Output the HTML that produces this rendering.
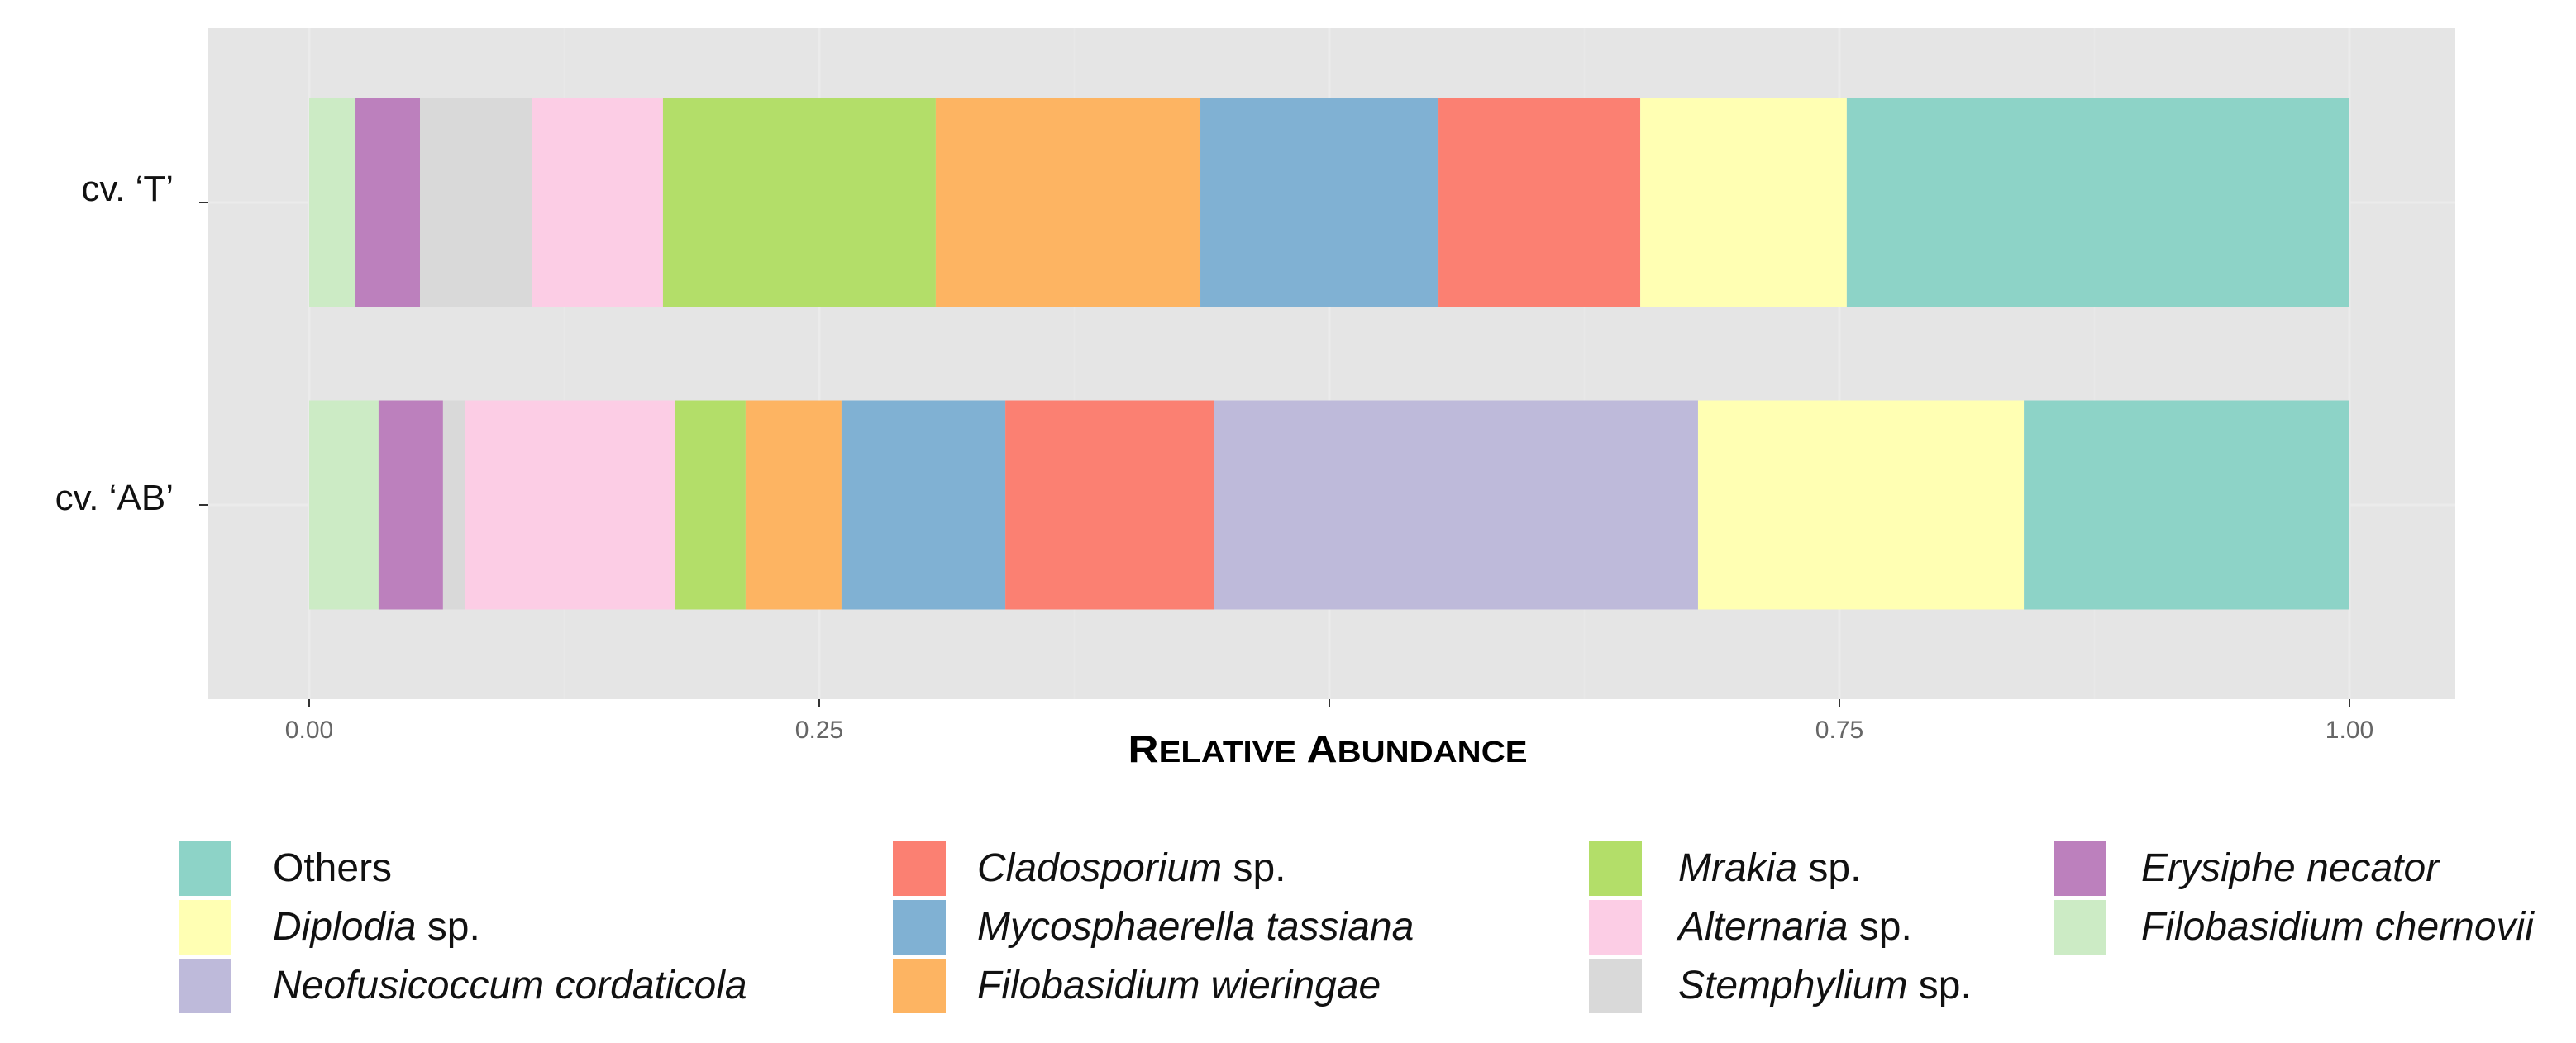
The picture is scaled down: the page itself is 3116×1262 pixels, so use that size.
<!DOCTYPE html>
<html><head><meta charset="utf-8"><style>
html,body{margin:0;padding:0;background:#fff}
svg{display:block}
text{font-family:"Liberation Sans",sans-serif}
</style></head><body>
<svg id="chart" width="3116" height="1262" xmlns="http://www.w3.org/2000/svg">
<rect x="251" y="34" width="2719" height="812" fill="#e5e5e5"/>
<g id="grid"></g>
<g id="bars"></g>
<g id="axes"></g>
<g id="legend"></g>
</svg>
<script>
const categories = ["cv. \u2018T\u2019", "cv. \u2018AB\u2019"];
const taxa = ["Filobasidium chernovii","Erysiphe necator","Stemphylium sp.","Alternaria sp.","Mrakia sp.","Filobasidium wieringae","Mycosphaerella tassiana","Cladosporium sp.","Neofusicoccum cordaticola","Diplodia sp.","Others"];
const colors = ["#ccebc5","#bc80bd","#d9d9d9","#fccde5","#b3de69","#fdb462","#80b1d3","#fb8072","#bebada","#ffffb3","#8dd3c7"];
const valuesT = [0.0227,0.0316,0.0551,0.0640,0.1337,0.1297,0.1167,0.0989,0,0.1012,0.2464];
const valuesAB = [0.0340,0.0316,0.0106,0.1029,0.0348,0.0470,0.0803,0.1021,0.2374,0.1597,0.1596];
const tickValues = [0,0.25,0.5,0.75,1];
const tickLabels = ["0.00","0.25","","0.75","1.00"];
const NS="http://www.w3.org/2000/svg";
const X0=374, X1=2842;
const xs = v => X0 + v*(X1-X0);
const yCenters=[245,611], barH=253;
const y = i => yCenters[i];
function mk(tag, attrs, parent){const e=document.createElementNS(NS,tag);for(const k in attrs)e.setAttribute(k,attrs[k]);parent.appendChild(e);return e;}
const grid=document.getElementById('grid'), bars=document.getElementById('bars'), axes=document.getElementById('axes'), legend=document.getElementById('legend');
for(let i=0;i<tickValues.length;i++){
  const l=mk('line',{x1:xs(tickValues[i]),x2:xs(tickValues[i]),y1:34,y2:846,stroke:'#ebebeb','stroke-width':3},grid);
  
  
  if(i<tickValues.length-1){
    const m=(tickValues[i]+tickValues[i+1])/2;
    const l2=mk('line',{x1:xs(m),x2:xs(m),y1:34,y2:846,stroke:'#e8e8e8','stroke-width':2},grid);
    
    
  }
}
for(let i=0;i<categories.length;i++){
  const l=mk('line',{x1:251,x2:2970,y1:y(i),y2:y(i),stroke:'#ebebeb','stroke-width':3},grid);
  
  
}
[valuesT,valuesAB].forEach((vals,ci)=>{
  let acc=0;
  vals.forEach((v,ti)=>{
    if(v>0){
      const r=mk('rect',{x:xs(acc),y:y(ci)-barH/2,width:xs(acc+v)-xs(acc),height:barH,fill:colors[ti]},bars);
      
      
    }
    acc+=v;
  });
});
tickValues.forEach((v,i)=>{
  const t=mk('line',{x1:xs(v),x2:xs(v),y1:846,y2:856,stroke:'#333','stroke-width':2},axes);
  
  
  const tx=mk('text',{x:xs(v),y:893,'text-anchor':'middle','font-size':30,fill:'#666'},axes);
  tx.textContent=tickLabels[i];
  
  
});
categories.forEach((c,i)=>{
  const t=mk('line',{x1:241,x2:251,y1:y(i),y2:y(i),stroke:'#333','stroke-width':2},axes);
  
  
  const tx=mk('text',{x:210,y:y(i)+(i==0?-2:6),'text-anchor':'end','font-size':44,fill:'#111'},axes);
  tx.textContent=c;
  
  
});
const at=mk('text',{x:1606,y:922,'text-anchor':'middle','font-size':46,'font-weight':'bold',fill:'#000','textLength':483,'lengthAdjust':'spacingAndGlyphs'},axes);
at.innerHTML='R<tspan font-size="36">ELATIVE</tspan> A<tspan font-size="36">BUNDANCE</tspan>';


const legOrder=[10,9,8,7,6,5,4,3,2,1,0];
const colX=[[216,330],[1080,1182],[1922,2030],[2484,2590]];
const rowY=[1018,1089,1160];
legOrder.forEach((ti,k)=>{
  const col=Math.floor(k/3), row=k%3;
  const r=mk('rect',{x:colX[col][0],y:rowY[row],width:64,height:66,fill:colors[ti]},legend);
  
  
  const name=taxa[ti];
  const tx=mk('text',{x:colX[col][1],y:rowY[row]+48,'font-size':48,fill:'#111'},legend);
  if(name==="Others"){tx.textContent=name;}
  else if(name.endsWith(" sp.")){tx.innerHTML='<tspan font-style="italic">'+name.slice(0,-4)+'</tspan> sp.';}
  else{tx.setAttribute('font-style','italic');tx.textContent=name;}
  
  
});
</script>
</body></html>
